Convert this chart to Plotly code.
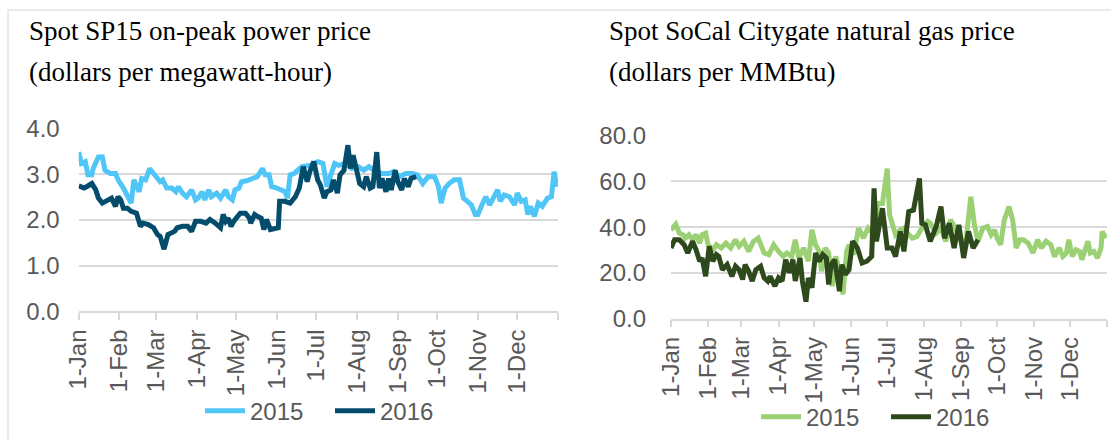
import plotly.graph_objects as go

# ---------------- data ----------------
month_labels = ["1-Jan", "1-Feb", "1-Mar", "1-Apr", "1-May", "1-Jun",
                "1-Jul", "1-Aug", "1-Sep", "1-Oct", "1-Nov", "1-Dec", ""]
month_starts = ["01-01", "02-01", "03-01", "04-01", "05-01", "06-01",
                "07-01", "08-01", "09-01", "10-01", "11-01", "12-01", "12-31+"]

# Spot SP15 on-peak power price, 2015
sp15_2015_dates = [
    "01-01", "01-03", "01-06", "01-08", "01-11", "01-12", "01-16", "01-19", "01-21", "01-25", "01-29", "01-31",
    "02-04", "02-08", "02-10", "02-12", "02-16", "02-18", "02-21", "02-24", "02-27",
    "03-02", "03-04", "03-06", "03-09", "03-13", "03-16", "03-18", "03-21", "03-24", "03-28", "03-31",
    "04-02", "04-05", "04-07", "04-10", "04-12", "04-16", "04-19", "04-23", "04-25", "04-28", "04-30",
    "05-03", "05-05", "05-09", "05-13", "05-17", "05-21", "05-23", "05-26", "05-28",
    "06-01", "06-05", "06-07", "06-09", "06-11", "06-14", "06-17", "06-20", "06-27",
    "07-02", "07-06", "07-09", "07-12", "07-15", "07-18", "07-23", "07-28",
    "08-02", "08-06", "08-10", "08-15", "08-20", "08-25", "08-29",
    "09-02", "09-07", "09-12", "09-16", "09-20", "09-24", "09-29",
    "10-02", "10-04", "10-07", "10-10", "10-14", "10-18", "10-21", "10-24", "10-27", "10-30",
    "11-01", "11-04", "11-07", "11-10", "11-13", "11-16", "11-18", "11-21", "11-25", "11-29",
    "12-01", "12-04", "12-07", "12-09", "12-11", "12-14", "12-17", "12-20", "12-24", "12-27", "12-29", "12-31"]
sp15_2015_values = [
    3.49, 3.24, 3.28, 2.99, 2.99, 3.13, 3.38, 3.38, 3.09, 3.02, 3.02, 2.88,
    2.70, 2.48, 2.37, 2.88, 2.62, 2.91, 2.88, 3.13, 3.02,
    2.91, 2.84, 2.88, 2.70, 2.70, 2.62, 2.73, 2.59, 2.51, 2.66, 2.44,
    2.48, 2.62, 2.44, 2.66, 2.51, 2.59, 2.48, 2.66, 2.51, 2.44, 2.66,
    2.70, 2.84, 2.86, 2.91, 2.95, 3.13, 2.99, 2.99, 2.73,
    2.70, 2.66, 2.62, 2.48, 2.99, 3.02, 3.09, 3.17, 3.20,
    3.28, 3.24, 2.73, 2.99, 3.24, 3.20, 3.24, 3.13,
    3.17, 3.09, 3.17, 3.06, 3.02, 3.02, 3.06,
    2.95, 3.02, 3.02, 2.99, 2.80, 2.95, 2.95,
    2.73, 2.37, 2.70, 2.80, 2.88, 2.88, 2.48, 2.41, 2.33, 2.12,
    2.12, 2.33, 2.51, 2.33, 2.48, 2.66, 2.41, 2.55, 2.51, 2.33,
    2.59, 2.41, 2.44, 2.12, 2.30, 2.08, 2.37, 2.30, 2.48, 2.51, 3.06, 2.73]

# Spot SP15 on-peak power price, 2016
sp15_2016_dates = [
    "01-01", "01-05", "01-07", "01-11", "01-14", "01-16", "01-19", "01-22", "01-26", "01-29", "01-31",
    "02-02", "02-04", "02-07", "02-10", "02-14", "02-17", "02-19", "02-23", "02-27",
    "03-02", "03-04", "03-07", "03-10", "03-12", "03-15", "03-17", "03-21", "03-25", "03-28", "03-31",
    "04-04", "04-08", "04-11", "04-15", "04-19", "04-21", "04-23", "04-25", "04-27", "04-29",
    "05-04", "05-08", "05-11", "05-12", "05-15", "05-17", "05-20", "05-22", "05-24", "05-27", "05-31",
    "06-02", "06-03", "06-07", "06-11", "06-15", "06-18", "06-21", "06-24", "06-26", "06-29",
    "07-02", "07-04", "07-07", "07-09", "07-12", "07-14", "07-17", "07-19", "07-22", "07-25", "07-27", "07-29",
    "08-01", "08-03", "08-06", "08-08", "08-11", "08-13", "08-16", "08-18", "08-20", "08-23", "08-25", "08-27", "08-30",
    "09-01", "09-04", "09-06", "09-09", "09-11", "09-15"]
sp15_2016_values = [
    2.75, 2.70, 2.73, 2.80, 2.66, 2.48, 2.37, 2.41, 2.48, 2.30, 2.51,
    2.44, 2.26, 2.26, 2.19, 2.15, 1.86, 1.93, 1.90, 1.83,
    1.68, 1.64, 1.36, 1.68, 1.72, 1.75, 1.83, 1.86, 1.86, 1.75, 1.97,
    1.97, 1.93, 2.01, 1.93, 1.83, 2.12, 1.97, 2.04, 1.86, 1.97,
    2.15, 2.15, 2.04, 1.93, 2.12, 2.08, 2.04, 1.79, 2.01, 1.79, 1.83,
    1.83, 2.41, 2.41, 2.37, 2.51, 2.70, 3.17, 2.84, 3.06, 3.28,
    2.88, 2.77, 2.48, 2.62, 2.66, 2.88, 2.59, 2.99, 3.09, 3.64, 3.13, 3.42,
    3.06, 2.80, 2.73, 2.95, 2.70, 2.73, 3.49, 2.70, 2.91, 2.62, 2.91, 2.66, 3.09,
    2.84, 2.66, 2.91, 2.73, 2.91, 2.95]

# Spot SoCal Citygate natural gas price, 2015
socal_2015_dates = [
    "01-01", "01-05", "01-08", "01-11", "01-13", "01-16", "01-19", "01-22", "01-25", "01-27", "01-30",
    "02-01", "02-05", "02-08", "02-12", "02-16", "02-20", "02-24", "02-27",
    "03-03", "03-07", "03-11", "03-15", "03-20", "03-24", "03-28",
    "04-01", "04-05", "04-08", "04-12", "04-15", "04-18", "04-22", "04-26", "04-29",
    "05-02", "05-05", "05-07", "05-10", "05-13", "05-16", "05-19", "05-22", "05-25", "05-28", "05-30",
    "06-03", "06-07", "06-11", "06-15", "06-20", "06-23", "06-27",
    "07-01", "07-03", "07-05", "07-08", "07-12", "07-15", "07-18", "07-22", "07-26", "07-30",
    "08-04", "08-06", "08-11", "08-15", "08-19", "08-23", "08-27",
    "09-01", "09-05", "09-09", "09-12", "09-15", "09-19", "09-23", "09-26", "09-29",
    "10-01", "10-04", "10-07", "10-11", "10-14", "10-17", "10-20", "10-23", "10-27", "10-31",
    "11-04", "11-07", "11-11", "11-15", "11-18", "11-22", "11-25", "11-28", "11-30",
    "12-03", "12-06", "12-09", "12-11", "12-16", "12-18", "12-21", "12-24", "12-27", "12-28", "12-31"]
socal_2015_values = [
    38.8, 41.3, 37.4, 36.7, 35.2, 36.7, 34.5, 36.7, 33.0, 36.7, 37.4,
    32.3, 30.1, 32.3, 30.9, 33.0, 30.9, 34.5, 31.6,
    33.8, 29.4, 33.8, 35.2, 28.7, 28.0, 32.3,
    29.4, 27.2, 28.7, 27.2, 34.5, 26.5, 30.9, 25.1, 38.8,
    32.3, 29.4, 20.7, 30.9, 28.7, 14.2, 27.2, 20.7, 10.6, 29.4, 32.3,
    28.0, 39.6, 35.2, 39.6, 36.7, 50.4, 50.4,
    65.6, 45.4, 41.0, 36.7, 38.8, 39.6, 37.4, 35.2, 35.9, 39.6,
    42.5, 41.7, 37.4, 39.6, 33.8, 43.2, 39.6,
    33.8, 34.5, 53.3, 41.0, 33.8, 39.6, 40.3, 36.7, 38.8,
    35.2, 32.3, 43.2, 49.0, 43.2, 30.9, 34.5, 34.5, 33.0, 28.7,
    34.5, 30.9, 33.8, 32.3, 27.2, 30.9, 27.2, 28.7, 34.5,
    27.2, 30.1, 29.4, 25.8, 33.8, 28.7, 29.4, 26.5, 30.9, 38.1, 35.2]

# Spot SoCal Citygate natural gas price, 2016
socal_2016_dates = [
    "01-01", "01-04", "01-08", "01-12", "01-15", "01-19", "01-22", "01-25", "01-27", "01-30",
    "02-02", "02-05", "02-08", "02-10", "02-13", "02-17", "02-21", "02-24", "02-27",
    "03-02", "03-04", "03-07", "03-10", "03-13", "03-17", "03-20", "03-23", "03-25", "03-29",
    "04-01", "04-04", "04-07", "04-10", "04-13", "04-15", "04-19", "04-21", "04-24", "04-26", "04-29",
    "05-02", "05-05", "05-08", "05-11", "05-13", "05-15", "05-18", "05-22", "05-24", "05-27", "05-30",
    "06-02", "06-06", "06-10", "06-14", "06-18", "06-20", "06-22", "06-27",
    "07-01", "07-05", "07-08", "07-12", "07-15", "07-19", "07-23", "07-28", "07-30",
    "08-02", "08-06", "08-11", "08-15", "08-18", "08-22", "08-26", "08-30",
    "09-03", "09-07", "09-11", "09-15"]
socal_2016_values = [
    30.9, 34.5, 34.5, 32.3, 28.7, 33.8, 30.1, 25.1, 26.5, 18.5,
    31.6, 25.1, 28.0, 27.2, 21.4, 23.6, 18.5, 22.9, 21.4,
    17.1, 23.6, 20.7, 16.4, 21.4, 22.9, 17.8, 16.4, 18.5, 14.2,
    17.8, 16.4, 25.8, 20.0, 25.8, 16.4, 26.5, 16.4, 7.4, 17.8, 13.5,
    28.7, 25.1, 28.0, 26.5, 14.9, 23.6, 25.8, 12.0, 23.6, 19.3, 21.4,
    33.8, 30.9, 24.3, 25.1, 27.2, 57.0, 33.8, 48.3,
    30.9, 30.9, 27.2, 38.1, 29.4, 46.8, 47.5, 61.3, 41.7,
    41.0, 33.8, 40.3, 49.0, 35.2, 41.7, 30.9, 41.0,
    26.5, 38.1, 30.9, 34.5]

for d, v in [(sp15_2015_dates, sp15_2015_values), (sp15_2016_dates, sp15_2016_values),
             (socal_2015_dates, socal_2015_values), (socal_2016_dates, socal_2016_values)]:
    assert len(d) == len(v), (len(d), len(v))


def to_axis_dates(md_list):
    # both years are drawn on one January-to-December axis
    return ["2016-01-01" if s == "12-31+" else "2015-" + s for s in md_list]


# ---------------- styling ----------------
W, H = 1111, 440
GRID = "#D9D9D9"
TXT = "#595959"
C15_L, C16_L = "#4FC6F7", "#044C6C"
C15_R, C16_R = "#9BD174", "#2E4A1C"
SANS = "Liberation Sans, Arial, sans-serif"
SERIF = "Liberation Serif, Times New Roman, serif"
LW = 5


def px_x(p):
    return p / W


def px_y(p):
    return 1 - p / H


fig = go.Figure()

fig.add_trace(go.Scatter(x=to_axis_dates(sp15_2015_dates), y=sp15_2015_values, name="2015",
                         mode="lines", line=dict(color=C15_L, width=LW),
                         xaxis="x", yaxis="y", legend="legend"))
fig.add_trace(go.Scatter(x=to_axis_dates(sp15_2016_dates), y=sp15_2016_values, name="2016",
                         mode="lines", line=dict(color=C16_L, width=LW),
                         xaxis="x", yaxis="y", legend="legend"))
fig.add_trace(go.Scatter(x=to_axis_dates(socal_2015_dates), y=socal_2015_values, name="2015",
                         mode="lines", line=dict(color=C15_R, width=LW),
                         xaxis="x2", yaxis="y2", legend="legend2"))
fig.add_trace(go.Scatter(x=to_axis_dates(socal_2016_dates), y=socal_2016_values, name="2016",
                         mode="lines", line=dict(color=C16_R, width=LW),
                         xaxis="x2", yaxis="y2", legend="legend2"))

tickvals = to_axis_dates(month_starts)

xcommon = dict(type="date", range=["2015-01-01", "2016-01-01"], tickmode="array",
               tickvals=tickvals, ticktext=month_labels, tickangle=-90,
               tickfont=dict(family=SANS, size=24, color=TXT),
               showline=True, linecolor=GRID, linewidth=1.5,
               ticks="outside", ticklen=7, tickwidth=1.5, tickcolor=GRID,
               showgrid=False, zeroline=False, automargin=False, fixedrange=True)
ycommon = dict(tickformat=".1f", tickfont=dict(family=SANS, size=24, color=TXT),
               showgrid=True, gridcolor=GRID, gridwidth=1.5, showline=False,
               zeroline=False, ticks="", automargin=False, fixedrange=True)

legend_common = dict(orientation="h", xanchor="center", yanchor="middle",
                     font=dict(family=SANS, size=24, color=TXT), bgcolor="rgba(0,0,0,0)",
                     itemwidth=40, tracegroupgap=0, entrywidth=75, entrywidthmode="pixels")

fig.update_layout(
    width=W, height=H,
    margin=dict(l=0, r=0, t=0, b=0),
    paper_bgcolor="white", plot_bgcolor="white",
    xaxis=dict(domain=[px_x(78.7), px_x(558)], anchor="y", **xcommon),
    yaxis=dict(domain=[px_y(314), px_y(130)], anchor="x", range=[0, 4], dtick=1,
               ticklabelstandoff=18, **ycommon),
    xaxis2=dict(domain=[px_x(671), px_x(1107)], anchor="y2", **xcommon),
    yaxis2=dict(domain=[px_y(321.5), px_y(137)], anchor="x2", range=[0, 80], dtick=20,
                ticklabelstandoff=24, **ycommon),
    legend=dict(x=px_x(330), y=px_y(415), **legend_common),
    legend2=dict(x=px_x(886), y=px_y(421), **legend_common),
    showlegend=True,
    shapes=[dict(type="rect", xref="paper", yref="paper", x0=px_x(8), x1=1.05,
                 y0=-0.05, y1=px_y(10), line=dict(color="#E3E3E3", width=1.5),
                 fillcolor="rgba(0,0,0,0)", layer="below")],
    annotations=[
        dict(text="Spot SP15 on-peak power price", x=px_x(27), y=px_y(31), xref="paper", yref="paper",
             xanchor="left", yanchor="middle", showarrow=False,
             font=dict(family=SERIF, size=27, color="black")),
        dict(text="(dollars per megawatt-hour)", x=px_x(27), y=px_y(73), xref="paper", yref="paper",
             xanchor="left", yanchor="middle", showarrow=False,
             font=dict(family=SERIF, size=27, color="black")),
        dict(text="Spot SoCal Citygate natural gas price", x=px_x(607), y=px_y(31), xref="paper",
             yref="paper", xanchor="left", yanchor="middle", showarrow=False,
             font=dict(family=SERIF, size=27, color="black")),
        dict(text="(dollars per MMBtu)", x=px_x(607), y=px_y(73), xref="paper", yref="paper",
             xanchor="left", yanchor="middle", showarrow=False,
             font=dict(family=SERIF, size=27, color="black")),
    ],
)

fig.write_html("out.html", config={"displayModeBar": False},
               post_script="document.body.style.margin='0';document.body.style.padding='0';")
